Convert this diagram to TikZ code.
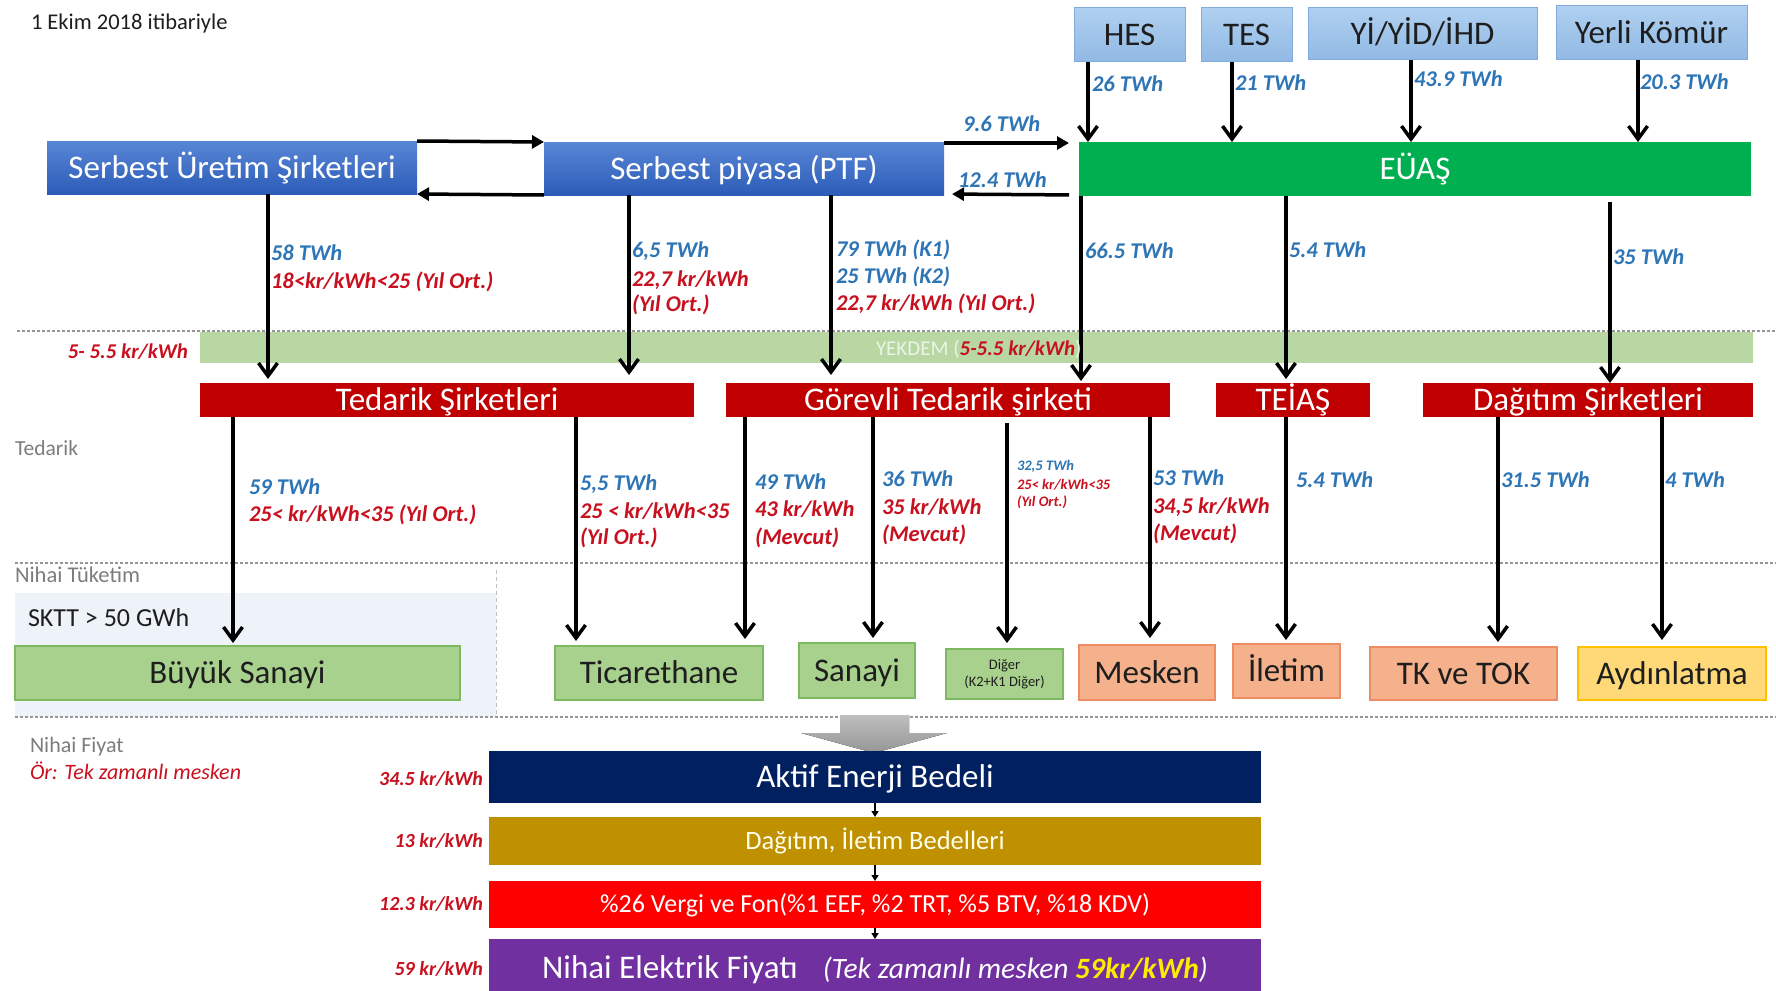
\documentclass[tikz,border=0pt]{standalone}
\usepackage{fontspec}
\setmainfont{Carlito}
\usetikzlibrary{arrows.meta}
\newcommand\fsz[1]{\fontsize{#1}{#1}\selectfont}
\definecolor{bluetxt}{RGB}{46,117,182}
\definecolor{redtxt}{RGB}{200,16,30}
\definecolor{darkred}{RGB}{192,0,0}
\definecolor{euasgreen}{RGB}{0,176,80}
\definecolor{yekgreen}{RGB}{184,215,163}
\definecolor{cgfill}{RGB}{169,209,142}
\definecolor{cgdraw}{RGB}{125,185,95}
\definecolor{csfill}{RGB}{245,177,140}
\definecolor{csdraw}{RGB}{238,140,100}
\definecolor{cyfill}{RGB}{255,217,120}
\definecolor{cydraw}{RGB}{255,192,0}
\definecolor{srctop}{RGB}{175,208,240}
\definecolor{srcbot}{RGB}{145,185,228}
\definecolor{srcdraw}{RGB}{130,170,220}
\definecolor{sutop}{RGB}{88,134,214}
\definecolor{subot}{RGB}{44,92,184}
\definecolor{skttbg}{RGB}{238,243,250}
\definecolor{navy}{RGB}{0,32,96}
\definecolor{gold}{RGB}{191,144,0}
\definecolor{purp}{RGB}{112,48,160}
\definecolor{graytxt}{RGB}{125,125,125}
\definecolor{dashgray}{RGB}{150,150,150}
\definecolor{darktxt}{RGB}{30,30,30}
\definecolor{yel}{RGB}{255,235,0}
\begin{document}
\begin{tikzpicture}[x=1pt,y=-1pt,
  every node/.style={inner sep=0pt, outer sep=0pt},
  t30/.style={font=\fsz{33}, text height=24.5pt, text depth=3.3pt},
  t25/.style={font=\fsz{26.5}, text height=20pt, text depth=2.6pt},
  t24/.style={font=\fsz{26}, text height=19.5pt, text depth=2.6pt},
  bluebox/.style={t30, top color=sutop, bottom color=subot, text=white},
  srcbox/.style={t30, top color=srctop, bottom color=srcbot, draw=srcdraw, line width=1pt, text=darktxt},
  greenbox/.style={t30, fill=euasgreen, text=white},
  redbox/.style={t30, fill=darkred, text=white},
  cg/.style={t30, fill=cgfill, draw=cgdraw, line width=1.2pt, text=darktxt},
  cs/.style={t30, fill=csfill, draw=csdraw, line width=1.2pt, text=darktxt},
  cy/.style={t30, fill=cyfill, draw=cydraw, line width=1.2pt, text=darktxt},
  lbl/.style={font=\fsz{22.5}\bfseries\itshape, anchor=base west},
  lb/.style={lbl, text=bluetxt},
  lr/.style={lbl, text=redtxt},
  slb/.style={font=\fsz{14.5}\bfseries\itshape, anchor=base west, text=bluetxt},
  slr/.style={font=\fsz{14.5}\bfseries\itshape, anchor=base west, text=redtxt},
  vlbl/.style={font=\fsz{20}\bfseries\itshape, anchor=base east, text=redtxt},
  gtxt/.style={font=\fsz{21.5}, anchor=base west, text=graytxt},
  varr/.style={line width=3.5pt, -{Straight Barb[length=13pt,width=19pt]}},
  harr/.style={line width=3.5pt, -{Triangle[length=12pt,width=13pt]}},
  sarr/.style={line width=1.5pt, -{Triangle[length=6pt,width=7pt]}},
  dl/.style={draw=dashgray, line width=2pt, dash pattern=on 3pt off 2pt}
]
\clip (0,0) rectangle (1776,990);
\fill[white] (0,0) rectangle (1776,990);

% background bands and separators
\fill[yekgreen] (200,332) rectangle (1753,363);
\fill[skttbg] (15,593) rectangle (496,717);
\draw[dl] (17,331) -- (1776,331);
\draw[dl] (15,563) -- (1776,563);
\draw[dl] (15,717) -- (1776,717);
\draw[draw=dashgray!60, line width=1pt, dash pattern=on 4pt off 3pt] (496,570) -- (496,717);

% gray big arrow
\fill[top color={rgb,255:red,190;green,190;blue,190}, bottom color={rgb,255:red,150;green,150;blue,150}]
  (840,715) -- (909,715) -- (909,733) -- (947,733) -- (874,753) -- (801,733) -- (840,733) -- cycle;

% texts top-left
\node[font=\fsz{22.5}, anchor=base west, text=darktxt] (date) at (31,30) {1 Ekim 2018 itibariyle};
\node[gtxt] (lted) at (15,455) {Tedarik};
\node[font=\fsz{22.5}, anchor=base west, text=graytxt] (lnt) at (15,582) {Nihai Tüketim};
\node[font=\fsz{26}, anchor=base west, text=darktxt] (sktt) at (28,626) {SKTT > 50 GWh};
\node[font=\fsz{22}, anchor=base west, text=graytxt] (lnf) at (30,752) {Nihai Fiyat};
\node[font=\fsz{22}\itshape, anchor=base west, text=redtxt] (lor) at (30,779) {Ör: Tek zamanlı mesken};

% source boxes
\node[srcbox, minimum width=111pt, minimum height=54pt] (hes) at (1129.5,35) {HES};
\node[srcbox, minimum width=91pt, minimum height=54pt] (tes) at (1246.5,35) {TES};
\node[srcbox, minimum width=229pt, minimum height=52pt] (yi) at (1422.5,34) {Yİ/YİD/İHD};
\node[srcbox, minimum width=191pt, minimum height=54pt] (yk) at (1651.5,33) {Yerli Kömür};

% row 1
\node[bluebox, minimum width=370pt, minimum height=53pt] (sus) at (232,167.5) {Serbest Üretim Şirketleri};
\node[bluebox, minimum width=400pt, minimum height=53pt] (ptf) at (744,168.5) {Serbest piyasa (PTF)};
\node[greenbox, minimum width=672pt, minimum height=54pt] (euas) at (1415,169) {EÜAŞ};

% row 3
\node[redbox, minimum width=494pt, minimum height=34pt] (ted) at (447,400) {Tedarik Şirketleri};
\node[redbox, minimum width=444pt, minimum height=34pt] (gor) at (948,400) {Görevli Tedarik şirketi};
\node[redbox, minimum width=154pt, minimum height=34pt] (tei) at (1293,400) {TEİAŞ};
\node[redbox, minimum width=330pt, minimum height=34pt] (dag) at (1588,400) {Dağıtım Şirketleri};

% row 4
\node[cg, minimum width=445pt, minimum height=54pt] (bs) at (237.5,673) {Büyük Sanayi};
\node[cg, minimum width=208pt, minimum height=54pt] (tic) at (659,673) {Ticarethane};
\node[cg, minimum width=116pt, minimum height=55pt] (san) at (857,670.5) {Sanayi};
\node[cg, minimum width=117pt, minimum height=50pt, font=\fsz{14.5}, align=center, text height=, text depth=] (dig) at (1004.5,674) {Diğer\\[2pt](K2+K1 Diğer)};
\node[cs, minimum width=136pt, minimum height=55pt] (mes) at (1147,672.5) {Mesken};
\node[cs, minimum width=107pt, minimum height=54pt] (ilet) at (1286.5,671) {İletim};
\node[cs, minimum width=187pt, minimum height=53pt] (tk) at (1463.5,673.5) {TK ve TOK};
\node[cy, minimum width=188pt, minimum height=53pt] (ayd) at (1672,673.5) {Aydınlatma};

% bottom bars
\node[t30, fill=navy, text=white, minimum width=772pt, minimum height=52pt] (aeb) at (875,777) {Aktif Enerji Bedeli};
\node[t25, fill=gold, text=white!92!yellow, minimum width=772pt, minimum height=48pt] (dib) at (875,841) {Dağıtım, İletim Bedelleri};
\node[t24, fill=red, text=white, minimum width=772pt, minimum height=47pt] (vf) at (875,904.5) {\%26 Vergi ve Fon(\%1 EEF, \%2 TRT, \%5 BTV, \%18 KDV)};
\node[t30, fill=purp, text=white, minimum width=772pt, minimum height=58pt] (nef) at (875,968)
  {Nihai Elektrik Fiyatı\hspace{25pt}{\fsz{29.5}\itshape (Tek zamanlı mesken {\bfseries\color{yel}59kr/kWh})}};
\draw[sarr] (aeb.south) -- (dib.north);
\draw[sarr] (dib.south) -- (vf.north);
\draw[sarr] (vf.south) -- (nef.north);

% bar value labels
\node[vlbl] (v1) at (483,785) {34.5 kr/kWh};
\node[vlbl] (v2) at (483,847) {13 kr/kWh};
\node[vlbl] (v3) at (483,910) {12.3 kr/kWh};
\node[vlbl] (v4) at (483,975) {59 kr/kWh};

% horizontal arrows
\draw[harr] (sus.north east) -- (ptf.north west);
\draw[harr] (ptf.south west) -- (sus.south east);
\draw[harr, shorten >=10pt] ([yshift=-1pt]ptf.north east) -- ([yshift=-1pt]euas.north west);
\draw[harr, shorten <=10pt, shorten >=8pt] ([yshift=1pt]euas.south west) -- ([yshift=1pt]ptf.south east);
\node[lb] (l96) at (963,131) {9.6 TWh};
\node[lb] (l124) at (958,187) {12.4 TWh};

% source arrows
\draw[varr] (hes.south -| 1088,0) -- (euas.north -| 1088,0);
\draw[varr] (tes.south -| 1232,0) -- (euas.north -| 1232,0);
\draw[varr] (yi.south -| 1411,0) -- (euas.north -| 1411,0);
\draw[varr] (yk.south -| 1638,0) -- (euas.north -| 1638,0);
\node[lb] (l26) at (1092,91) {26 TWh};
\node[lb] (l21) at (1235,90) {21 TWh};
\node[lb] (l439) at (1414,86) {43.9 TWh};
\node[lb] (l203) at (1640,89) {20.3 TWh};

% row1 -> row3 arrows
\draw[varr, shorten >=4pt] (sus.south -| 268,0) -- (ted.north -| 268,0);
\draw[varr, shorten >=8pt] (ptf.south -| 629,0) -- (ted.north -| 629,0);
\draw[varr, shorten >=8pt] (ptf.south -| 831,0) -- (gor.north -| 831,0);
\draw[varr, shorten >=2pt] (euas.south -| 1081,0) -- (gor.north -| 1081,0);
\draw[varr, shorten >=4pt] (euas.south -| 1286,0) -- (tei.north -| 1286,0);
\draw[varr, shorten <=6pt] (euas.south -| 1610,0) -- (dag.north -| 1610,0);

\node[lb] (l58) at (271,260) {58 TWh};
\node[lr] (l58b) at (271,288) {18<kr/kWh<25 (Yıl Ort.)};
\node[lb] (l65) at (632,257) {6,5 TWh};
\node[lr] (l65b) at (632,286) {22,7 kr/kWh};
\node[lr] (l65c) at (632,311) {(Yıl Ort.)};
\node[lb] (l79) at (836,256) {79 TWh (K1)};
\node[lb] (l25) at (836,283) {25 TWh (K2)};
\node[lr] (l79c) at (836,310) {22,7 kr/kWh (Yıl Ort.)};
\node[lb] (l665) at (1085,258) {66.5 TWh};
\node[lb] (l54a) at (1289,257) {5.4 TWh};
\node[lb] (l35) at (1613,264) {35 TWh};
\node[anchor=base east, text=redtxt, font=\fsz{21}\bfseries\itshape] (lyk) at (188,358) {5- 5.5 kr/kWh};
\node[font=\fsz{21}, anchor=base west, text={rgb,255:red,235;green,245;blue,230}] (yek) at (876,355)
  {YEKDEM ({\bfseries\itshape\color{redtxt}5-5.5 kr/kWh})};

% row3 -> row4 arrows
\draw[varr, shorten >=3pt] (ted.south -| 233,0) -- (bs.north -| 233,0);
\draw[varr, shorten >=5pt] (ted.south -| 576,0) -- (tic.north -| 576,0);
\draw[varr, shorten >=7pt] (gor.south -| 745,0) -- (tic.north -| 745,0);
\draw[varr, shorten >=5pt] (gor.south -| 873,0) -- (san.north -| 873,0);
\draw[varr, shorten <=6pt, shorten >=6pt] (gor.south -| 1007,0) -- (dig.north -| 1007,0);
\draw[varr, shorten >=7pt] (gor.south -| 1150,0) -- (mes.north -| 1150,0);
\draw[varr, shorten >=4pt] (tei.south -| 1286,0) -- (ilet.north -| 1286,0);
\draw[varr, shorten >=5pt] (dag.south -| 1498,0) -- (tk.north -| 1498,0);
\draw[varr, shorten >=7pt] (dag.south -| 1662,0) -- (ayd.north -| 1662,0);

\node[lb] (l59) at (249,494) {59 TWh};
\node[lr] (l59b) at (249,521) {25< kr/kWh<35 (Yıl Ort.)};
\node[lb] (l55) at (580,490) {5,5 TWh};
\node[lr] (l55b) at (580,518) {25 < kr/kWh<35};
\node[lr] (l55c) at (580,544) {(Yıl Ort.)};
\node[lb] (l49) at (755,489) {49 TWh};
\node[lr] (l49b) at (755,516) {43 kr/kWh};
\node[lr] (l49c) at (755,544) {(Mevcut)};
\node[lb] (l36) at (882,486) {36 TWh};
\node[lr] (l36b) at (882,514) {35 kr/kWh};
\node[lr] (l36c) at (882,541) {(Mevcut)};
\node[slb] (l325) at (1017,470) {32,5 TWh};
\node[slr] (l325b) at (1017,489) {25< kr/kWh<35};
\node[slr] (l325c) at (1017,506) {(Yıl Ort.)};
\node[lb] (l53) at (1153,485) {53 TWh};
\node[lr] (l53b) at (1153,513) {34,5 kr/kWh};
\node[lr] (l53c) at (1153,540) {(Mevcut)};
\node[lb] (l54b) at (1296,487) {5.4 TWh};
\node[lb] (l315) at (1501,487) {31.5 TWh};
\node[lb] (l4) at (1665,487) {4 TWh};
\end{tikzpicture}
\end{document}
